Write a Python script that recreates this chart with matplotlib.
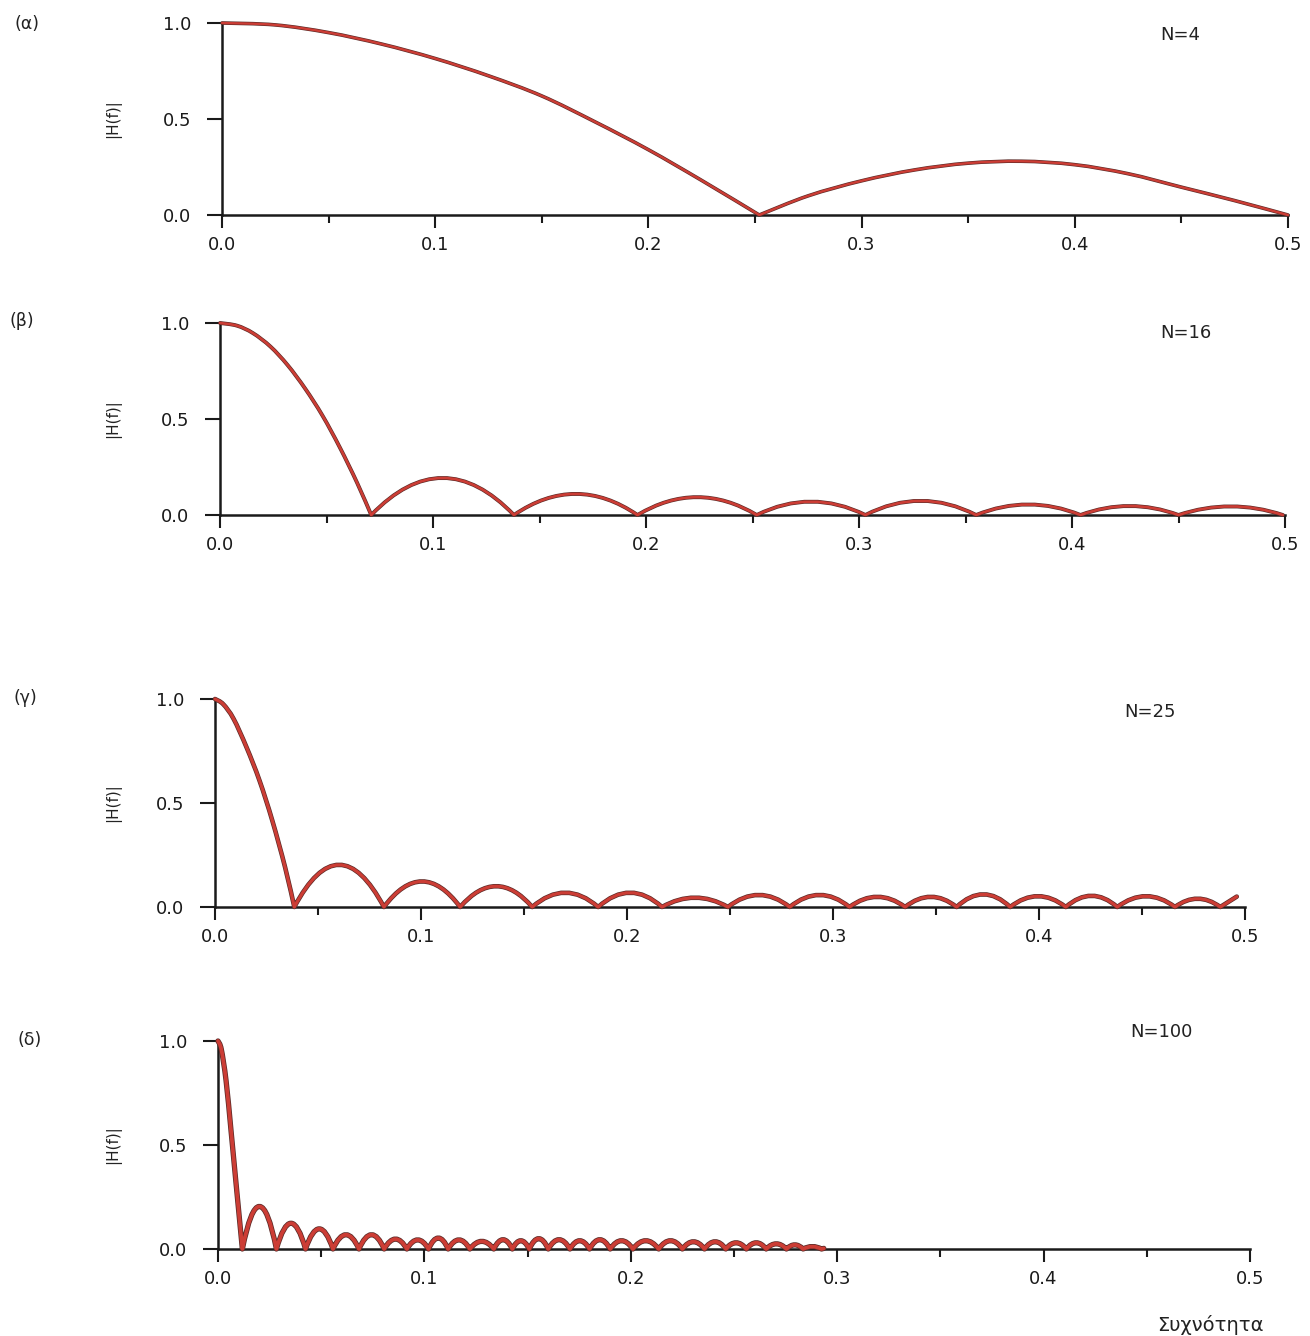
import matplotlib
matplotlib.use("Agg")
import matplotlib.pyplot as plt
from matplotlib.path import Path
from matplotlib.patches import PathPatch
import matplotlib.patheffects as pe

plt.rcParams['font.family'] = ['DejaVu Sans']

# ---------------- data ----------------
panel_labels = ["(α)", "(β)", "(γ)", "(δ)"]
n_labels = ["N=4", "N=16", "N=25", "N=100"]
x_ticks = [0.0, 0.1, 0.2, 0.3, 0.4, 0.5]
x_tick_labels = ["0.0", "0.1", "0.2", "0.3", "0.4", "0.5"]
x_minor = [0.05, 0.15, 0.25, 0.35, 0.45]
y_ticks = [0.0, 0.5, 1.0]
y_tick_labels = ["0.0", "0.5", "1.0"]
y_label = "|H(f)|"
x_label = "Συχνότητα"

# (α) N=4 : main lobe and the single side lobe as read points
a_main_f = [0.0, 0.025, 0.05, 0.075, 0.1, 0.125, 0.15, 0.175, 0.2, 0.225, 0.252]
a_main_h = [1.0, 0.99, 0.95, 0.89, 0.815, 0.725, 0.62, 0.485, 0.34, 0.18, 0.0]
a_zeros = []
a_peaks = []
a_tail_f = [0.275, 0.3, 0.325, 0.35, 0.375, 0.4, 0.425, 0.45, 0.475, 0.5]
a_tail_h = [0.10, 0.178, 0.235, 0.27, 0.28, 0.262, 0.215, 0.145, 0.075, 0.0]

# (β) N=16
b_main_f = [0.0, 0.008, 0.0155, 0.0237, 0.0318, 0.040, 0.0481, 0.0563, 0.0644, 0.071]
b_main_h = [1.0, 0.986, 0.947, 0.877, 0.78, 0.658, 0.518, 0.351, 0.167, 0.0]
b_zeros = [0.071, 0.138, 0.196, 0.252, 0.303, 0.355, 0.404, 0.450, 0.499]
b_peaks = [0.193, 0.11, 0.093, 0.07, 0.074, 0.055, 0.047, 0.045]
b_tail_f = []
b_tail_h = []

# (γ) N=25
c_main_f = [0.0, 0.004, 0.009, 0.0153, 0.0216, 0.0278, 0.034, 0.0385]
c_main_h = [1.0, 0.975, 0.905, 0.768, 0.608, 0.416, 0.192, 0.0]
c_zeros = [0.0385, 0.082, 0.119, 0.154, 0.186, 0.217, 0.249, 0.279, 0.308,
           0.335, 0.360, 0.386, 0.413, 0.438, 0.466, 0.488]
c_peaks = [0.203, 0.123, 0.10, 0.069, 0.069, 0.045, 0.058, 0.058, 0.049,
           0.049, 0.061, 0.052, 0.054, 0.052, 0.040]
c_tail_f = [0.496]
c_tail_h = [0.05]

# (δ) N=100
d_main_f = [0.0, 0.0016, 0.0039, 0.0063, 0.0086, 0.0118]
d_main_h = [1.0, 0.96, 0.81, 0.57, 0.33, 0.0]
d_zeros = [0.0118, 0.0283, 0.0424, 0.0557, 0.0683, 0.0805, 0.0915, 0.102,
           0.1115, 0.122, 0.1336, 0.1426, 0.1508, 0.160, 0.1705, 0.180, 0.190,
           0.201, 0.2135, 0.225, 0.2357, 0.246, 0.256, 0.2656, 0.2754, 0.2835,
           0.2924]
d_peaks = [0.205, 0.124, 0.097, 0.069, 0.069, 0.048, 0.044, 0.053, 0.044,
           0.037, 0.045, 0.040, 0.050, 0.045, 0.040, 0.045, 0.040, 0.040,
           0.040, 0.035, 0.035, 0.030, 0.030, 0.025, 0.020, 0.012]
d_tail_f = [0.2935]
d_tail_h = [0.003]

panels = [
    (a_main_f, a_main_h, a_zeros, a_peaks, a_tail_f, a_tail_h),
    (b_main_f, b_main_h, b_zeros, b_peaks, b_tail_f, b_tail_h),
    (c_main_f, c_main_h, c_zeros, c_peaks, c_tail_f, c_tail_h),
    (d_main_f, d_main_h, d_zeros, d_peaks, d_tail_f, d_tail_h),
]

# ---------------- layout (pixel geometry of the reference) ----------------
W, H = 1310, 1336
fig = plt.figure(figsize=(W / 100, H / 100), dpi=100)
fig.patch.set_facecolor('white')


def fx(x):
    return x / W


def fy(y):
    return 1 - y / H


def smooth_segments(pts):
    """Cubic Bezier (Catmull-Rom) pieces passing through the read points."""
    verts, codes = [], []
    n = len(pts)
    for k in range(n - 1):
        p0 = pts[k - 1] if k > 0 else pts[k]
        p1 = pts[k]
        p2 = pts[k + 1]
        p3 = pts[k + 2] if k + 2 < n else pts[k + 1]
        c1 = (p1[0] + (p2[0] - p0[0]) / 6, p1[1] + (p2[1] - p0[1]) / 6)
        c2 = (p2[0] - (p3[0] - p1[0]) / 6, p2[1] - (p3[1] - p1[1]) / 6)
        verts += [c1, c2, p2]
        codes += [Path.CURVE4] * 3
    return verts, codes


# left, right, top(1.0), bottom(0.0) in pixels
boxes = [(222, 1288, 23, 215), (220, 1285, 323, 515),
         (215, 1245, 699, 907), (218, 1250, 1041, 1249)]
label_pos = [(27, 24), (22, 321), (25, 698), (30, 1040)]
n_pos = [(1180, 35), (1186, 333), (1150, 712), (1161, 1032)]
ylab_x = 113
line_w = [(2.6, 1.7), (2.8, 1.9), (3.3, 2.3), (3.8, 2.7)]

RED = '#cc3d35'
DARK = '#5a2a27'

for i, (mf, mh, zs, pk, tf, th) in enumerate(panels):
    l, r, t, b = boxes[i]
    ax = fig.add_axes([fx(l), fy(b), fx(r) - fx(l), fy(t) - fy(b)])
    ax.set_xlim(0, 0.5)
    ax.set_ylim(0, 1.0)
    ax.patch.set_alpha(0)
    for s in ('top', 'right'):
        ax.spines[s].set_visible(False)
    for s in ('left', 'bottom'):
        ax.spines[s].set_linewidth(1.8)
        ax.spines[s].set_color('#1a1a1a')
    ax.set_xticks(x_ticks)
    ax.set_xticklabels(x_tick_labels)
    ax.set_xticks(x_minor, minor=True)
    ax.set_yticks(y_ticks)
    ax.set_yticklabels(y_tick_labels)
    ax.tick_params(axis='x', which='major', direction='out', length=9,
                   width=1.5, labelsize=13, pad=6, colors='#1a1a1a')
    ax.tick_params(axis='x', which='minor', direction='out', length=5.5,
                   width=1.5, colors='#1a1a1a')
    ax.tick_params(axis='y', which='major', direction='out', length=11,
                   width=1.5, labelsize=13, pad=11, colors='#1a1a1a')

    # main lobe: smooth curve through the read points
    main_pts = list(zip(mf, mh))
    verts = [main_pts[0]]
    codes = [Path.MOVETO]
    v, c = smooth_segments(main_pts)
    verts += v
    codes += c
    # side lobes: arches between read zeros with read peak heights
    for j, p in enumerate(pk):
        z0, z1 = zs[j], zs[j + 1]
        verts.append(((z0 + z1) / 2, 2 * p))
        codes.append(Path.CURVE3)
        verts.append((z1, 0.0))
        codes.append(Path.CURVE3)
    # tail: smooth curve from the current end through read points
    if tf:
        tail_pts = [verts[-1]] + list(zip(tf, th))
        v, c = smooth_segments(tail_pts)
        verts += v
        codes += c
    path = Path(verts, codes)
    wd, wr = line_w[i]
    patch = PathPatch(path, fill=False, edgecolor=RED, linewidth=wr,
                      joinstyle='round', capstyle='round', clip_on=False,
                      zorder=3,
                      path_effects=[pe.Stroke(linewidth=wd, foreground=DARK),
                                    pe.Normal()])
    ax.add_patch(patch)

    fig.text(fx(label_pos[i][0]), fy(label_pos[i][1]), panel_labels[i],
             fontsize=12.5, ha='center', va='center', color='#222222')
    fig.text(fx(n_pos[i][0]), fy(n_pos[i][1]), n_labels[i],
             fontsize=13, ha='center', va='center', color='#222222')
    fig.text(fx(ylab_x), fy((t + b) / 2), y_label, rotation=90,
             fontsize=11, ha='center', va='center', color='#222222',
             family='Liberation Sans Narrow')

fig.text(fx(1210), fy(1325), x_label, fontsize=14, ha='center',
         va='center', color='#222222')

fig.savefig('out.png', dpi=100, facecolor='white')
